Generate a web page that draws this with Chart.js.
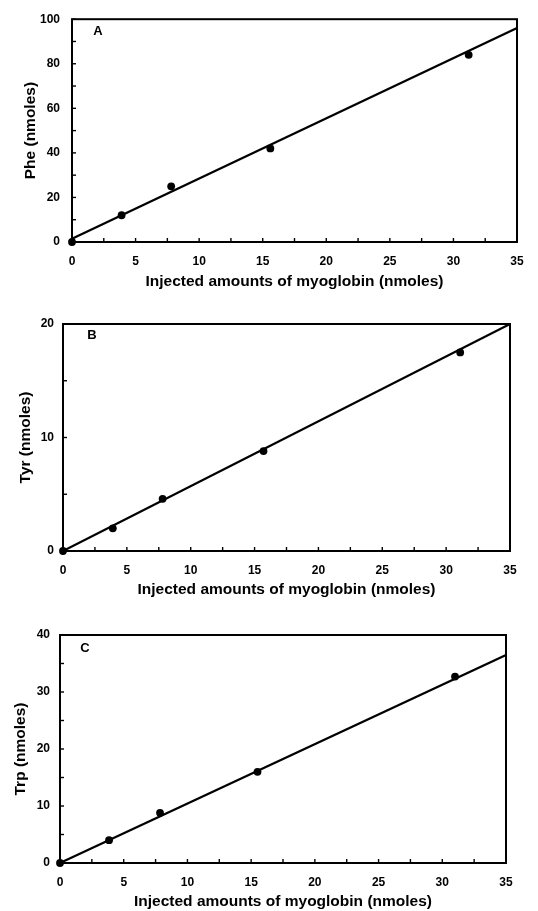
<!DOCTYPE html>
<html><head><meta charset="utf-8">
<script src="https://cdn.jsdelivr.net/npm/chart.js@4"></script>
<style>html,body{margin:0;padding:0;background:#fff;width:538px;height:911px;overflow:hidden;} canvas{position:absolute;left:0;}</style>
</head><body>
<canvas id="cA" width="538" height="300" style="top:0px"></canvas>
<canvas id="cB" width="538" height="300" style="top:300px"></canvas>
<canvas id="cC" width="538" height="311" style="top:600px"></canvas>
<script>
// ---- data ----
const xTitle = 'Injected amounts of myoglobin (nmoles)';
const fitX = [0, 35];
const amountsA = [0, 3.9, 7.8, 15.6, 31.2];
const pheValues = [0, 12, 25, 42, 84];
const pheFit = [1.5, 96];
const amountsB = [0, 3.9, 7.8, 15.7, 31.1];
const tyrValues = [0, 2.0, 4.6, 8.8, 17.5];
const tyrFit = [0, 20];
const amountsC = [0, 3.85, 7.85, 15.5, 31.0];
const trpValues = [0, 4.0, 8.8, 16.0, 32.7];
const trpFit = [0, 36.5];

// ---- layout / style ----
const FONT = '"Liberation Sans", Arial, Helvetica, sans-serif';
const framePlugin = {
  id: 'frame',
  afterDraw(chart, args, opts) {
    const {ctx, chartArea: {left, top, right, bottom}} = chart;
    ctx.save();
    ctx.strokeStyle = '#000';
    ctx.lineWidth = 1.4;
    const xs = chart.scales.x, ys = chart.scales.y;
    xs.ticks.forEach(t => { const px = xs.getPixelForValue(t.value); ctx.beginPath(); ctx.moveTo(px, bottom); ctx.lineTo(px, bottom - 4); ctx.stroke(); });
    ys.ticks.forEach(t => { const py = ys.getPixelForValue(t.value); ctx.beginPath(); ctx.moveTo(left, py); ctx.lineTo(left + 4, py); ctx.stroke(); });
    ctx.lineWidth = 2;
    ctx.strokeRect(left, top, right - left, bottom - top);
    ctx.font = 'bold 13px ' + FONT;
    ctx.fillStyle = '#000'; ctx.textBaseline = 'middle'; ctx.textAlign = 'center';
    ctx.fillText(opts.letter, left + opts.dx, top + opts.dy);
    ctx.restore();
  }
};

function makeChart(id, cfg) {
  const pts = cfg.xs.map((x, i) => ({x, y: cfg.ys[i]}));
  const fit = fitX.map((x, i) => ({x, y: cfg.fit[i]}));
  new Chart(document.getElementById(id), {
    type: 'scatter',
    data: { datasets: [
      { data: pts, showLine: false, clip: false, pointRadius: 3.9, pointBackgroundColor: '#000', pointBorderColor: '#000', pointBorderWidth: 0 },
      { data: fit, showLine: true, borderColor: '#000', borderWidth: 2.2, pointRadius: 0, fill: false }
    ]},
    options: {
      responsive: false, animation: false, devicePixelRatio: 1,
      layout: { padding: { left: 0, top: cfg.top, right: cfg.right, bottom: cfg.bottom } },
      plugins: { legend: { display: false }, tooltip: { enabled: false }, frame: { letter: cfg.letter, dx: cfg.ldx, dy: cfg.ldy } },
      scales: {
        x: {
          type: 'linear', min: 0, max: 35,
          grid: { display: false, drawTicks: false },
          border: { display: false },
          afterFit: s => { s.height = cfg.xh; },
          ticks: { stepSize: 2.5, autoSkip: false, maxRotation: 0, padding: 12, color: '#000',
            font: { family: FONT, size: 12, weight: 'bold' },
            callback: v => (v % 5 === 0 ? String(v) : '') },
          title: { display: true, text: xTitle, color: '#000', padding: 0,
            font: { family: FONT, size: 15.5, weight: 'bold' } }
        },
        y: {
          type: 'linear', min: 0, max: cfg.ymax,
          grid: { display: false, drawTicks: false },
          border: { display: false },
          afterFit: s => { s.width = cfg.left; },
          ticks: { stepSize: cfg.ystep, autoSkip: false, padding: cfg.ypad, color: '#000',
            font: { family: FONT, size: 12, weight: 'bold' },
            callback: v => (v % cfg.ylab === 0 ? String(v) : '') },
          title: { display: true, text: cfg.ytitle, color: '#000', padding: { top: cfg.ytp, bottom: 0 },
            font: { family: FONT, size: 15.5, weight: 'bold' } }
        }
      }
    },
    plugins: [framePlugin]
  });
}

makeChart('cA', { xs: amountsA, ys: pheValues, fit: pheFit, ymax: 100, ystep: 10, ylab: 20, ytitle: 'Phe (nmoles)',
  left: 72, top: 16, right: 21, bottom: 9, xh: 49, ypad: 12, ytp: 21, letter: 'A', ldx: 26, ldy: 12 });
makeChart('cB', { xs: amountsB, ys: tyrValues, fit: tyrFit, ymax: 20, ystep: 5, ylab: 10, ytitle: 'Tyr (nmoles)',
  left: 63, top: 24, right: 28, bottom: 1, xh: 48, ypad: 9, ytp: 16, letter: 'B', ldx: 29, ldy: 11 });
makeChart('cC', { xs: amountsC, ys: trpValues, fit: trpFit, ymax: 40, ystep: 5, ylab: 10, ytitle: 'Trp (nmoles)',
  left: 60, top: 35, right: 32, bottom: 0, xh: 48, ypad: 10, ytp: 11, letter: 'C', ldx: 25, ldy: 13 });
</script>
</body></html>
